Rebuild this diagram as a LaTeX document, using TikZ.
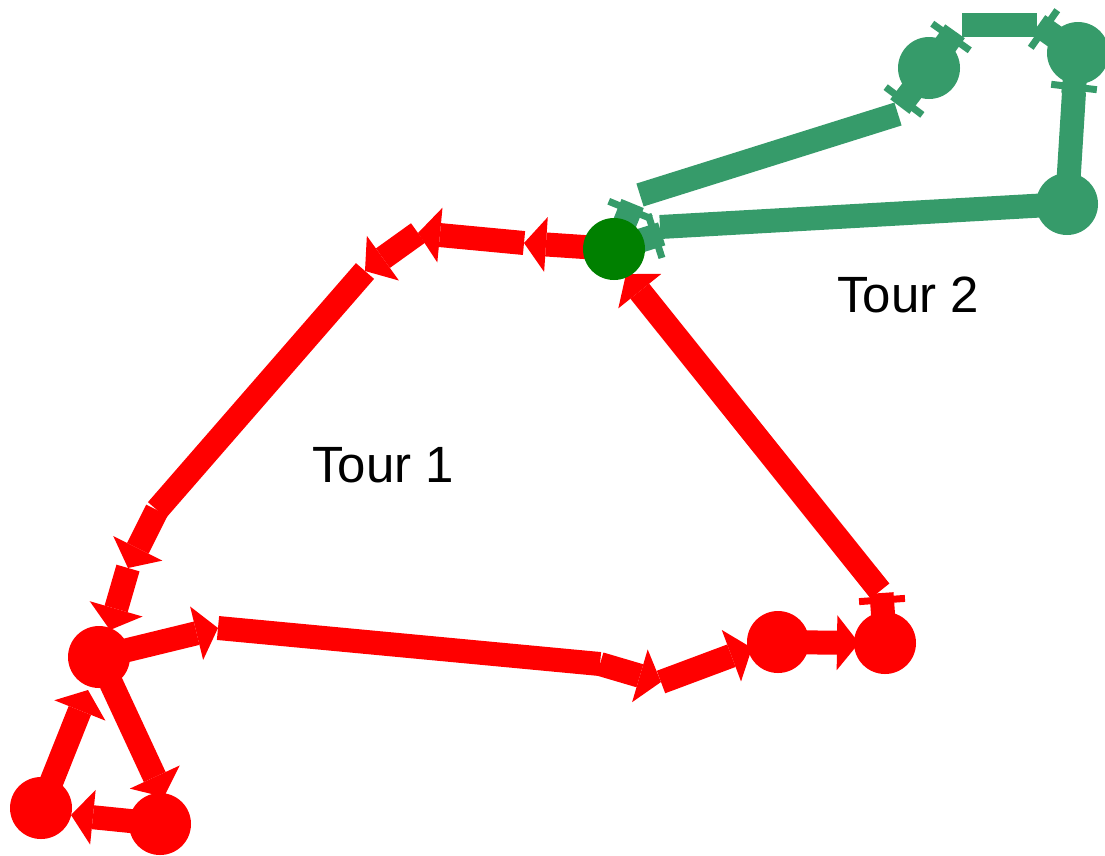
\documentclass[tikz,border=0pt]{standalone}
\usepackage{fontspec}
\setmainfont{Liberation Sans}
\usetikzlibrary{arrows.meta,calc}
\pgfdeclarelayer{bg}
\pgfsetlayers{bg,main}
\definecolor{tourred}{RGB}{255,0,0}
\definecolor{tourgreen}{RGB}{54,155,106}
\definecolor{depotgreen}{RGB}{0,128,0}
\newcommand\drawtbar[3]{%
  \draw[#3,line width=24pt] (#1.center) -- ($(#2)!-7pt!(#1.center)$);
  \draw[#3,line width=7pt] ($(#2)!23pt!90:(#1.center)$) -- ($(#2)!23pt!-90:(#1.center)$);
}
\begin{document}
\begin{tikzpicture}[x=1pt,y=-1pt,
  stop/.style={circle,minimum size=62pt,inner sep=0pt,outer sep=0pt,draw=none},
  leg/.style={line width=24pt},
  legarrow/.style={leg,-{Triangle[length=22pt,width=55pt,line width=0pt]}},
  lbl/.style={font=\fontsize{51}{60}\selectfont,anchor=base west,inner sep=0pt}
]
\useasboundingbox (0,0) rectangle (1105,855);

% stops
\node[stop,fill=depotgreen] (D) at (614,249) {};
\node[stop,fill=tourred] (N1) at (99,657) {};
\node[stop,fill=tourred] (N2) at (160,824) {};
\node[stop,fill=tourred] (N3) at (41,808) {};
\node[stop,fill=tourred] (N4) at (778,642) {};
\node[stop,fill=tourred] (N5) at (885,643) {};
\node[stop,fill=tourgreen] (G1) at (929,68) {};
\node[stop,fill=tourgreen] (G2) at (1078,53) {};
\node[stop,fill=tourgreen] (G3) at (1067,204) {};

% labels
\node[lbl] (T1) at (312,482) {Tour 1};
\node[lbl] (T2) at (837,312) {Tour 2};

% road points of tour 1
\coordinate (r1) at (524,243);
\coordinate (r2) at (418,233);
\coordinate (r3) at (365,271);
\coordinate (r4) at (157,510);
\coordinate (r5) at (128,568);
\coordinate (t6) at (110,630);
\coordinate (t7) at (164,797);
\coordinate (t8) at (71,815);
\coordinate (t9) at (88,690);
\coordinate (r7) at (218,628);
\coordinate (r8) at (600,664);
\coordinate (r9) at (661,682);
\coordinate (t10) at (752,648);
\coordinate (t11) at (859,643);
\coordinate (q5) at (882,600);
\coordinate (r10) at (880,591);
\coordinate (t12) at (626,274);

% road points of tour 2
\coordinate (qD1) at (630,210);
\coordinate (qD2) at (655,236);
\coordinate (u1) at (640,195);
\coordinate (u2) at (898,114);
\coordinate (qG1a) at (904,101);
\coordinate (qG1b) at (951,37);
\coordinate (h1) at (962,25);
\coordinate (h2) at (1037,25);
\coordinate (qG2a) at (1044,29);
\coordinate (qG2b) at (1074,87);
\coordinate (v1) at (1074,92);
\coordinate (l1) at (660,227);

\begin{pgfonlayer}{bg}
% tour 1
\draw[legarrow,tourred] (D.center) -- (r1);
\draw[legarrow,tourred] (r1) -- (r2);
\draw[legarrow,tourred] (r2) -- (r3);
\draw[leg,tourred] (r3) -- (r4);
\draw[legarrow,tourred] (r4) -- (r5);
\draw[legarrow,tourred] (r5) -- (t6);
\draw[legarrow,tourred] (N1.center) -- (t7);
\draw[legarrow,tourred] (N2.center) -- (t8);
\draw[legarrow,tourred] (N3.center) -- (t9);
\draw[legarrow,tourred] (N1.center) -- (r7);
\draw[leg,tourred] (r7) -- (r8);
\draw[legarrow,tourred] (r8) -- (r9);
\draw[legarrow,tourred] (r9) -- (t10);
\draw[legarrow,tourred] (N4.center) -- (t11);
\drawtbar{N5}{q5}{tourred}
\draw[legarrow,tourred] (r10) -- (t12);
% tour 2
\drawtbar{D}{qD1}{tourgreen}
\draw[leg,tourgreen] (u1) -- (u2);
\drawtbar{G1}{qG1a}{tourgreen}
\drawtbar{G1}{qG1b}{tourgreen}
\draw[leg,tourgreen] (h1) -- (h2);
\drawtbar{G2}{qG2a}{tourgreen}
\drawtbar{G2}{qG2b}{tourgreen}
\draw[leg,tourgreen] (v1) -- (G3.center);
\draw[leg,tourgreen] (G3.center) -- (l1);
\drawtbar{D}{qD2}{tourgreen}
\end{pgfonlayer}
\end{tikzpicture}
\end{document}
